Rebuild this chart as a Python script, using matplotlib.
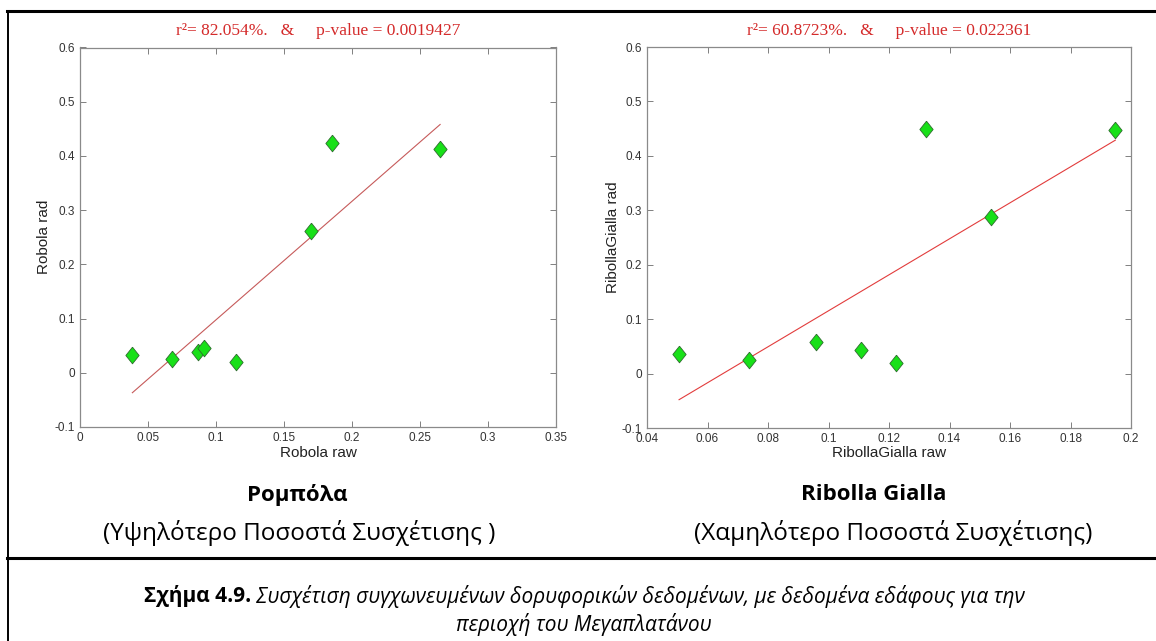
import numpy as np
import matplotlib
matplotlib.use("Agg")
import matplotlib.pyplot as plt
from matplotlib.lines import Line2D
from matplotlib.ticker import FuncFormatter

# values
robola_raw = [0.0385, 0.0673, 0.0865, 0.0912, 0.1145, 0.1696, 0.1853, 0.2648]
robola_rad = [0.033, 0.0246, 0.038, 0.0456, 0.0197, 0.261, 0.423, 0.4126]

ribolla_raw = [0.0506, 0.0738, 0.0959, 0.1106, 0.1223, 0.1323, 0.1537, 0.1948]
ribolla_rad = [0.0355, 0.0257, 0.0575, 0.0434, 0.0196, 0.450, 0.287, 0.447]

titles = ["r²= 82.054%.   &     p-value = 0.0019427",
          "r²= 60.8723%.   &     p-value = 0.022361"]
xlabels = ["Robola raw", "RibollaGialla raw"]
ylabels = ["Robola rad", "RibollaGialla rad"]
names = ["Ρομπόλα", "Ribolla Gialla"]
notes = ["(Υψηλότερο Ποσοστά Συσχέτισης )", "(Χαμηλότερο Ποσοστά Συσχέτισης)"]
caption_bold = "Σχήμα 4.9."
caption_1 = " Συσχέτιση συγχωνευμένων δορυφορικών δεδομένων, με δεδομένα εδάφους για την"
caption_2 = "περιοχή του Μεγαπλατάνου"

xticks_left = [0, 0.05, 0.1, 0.15, 0.2, 0.25, 0.3, 0.35]
xticks_right = [0.04, 0.06, 0.08, 0.1, 0.12, 0.14, 0.16, 0.18, 0.2]
yticks = [-0.1, 0, 0.1, 0.2, 0.3, 0.4, 0.5, 0.6]

W, H = 1156, 641
fig = plt.figure(figsize=(W / 100, H / 100), dpi=100)


def box(x0, y0, x1, y1):
    # pixel box (top-left origin) -> figure fraction
    return [x0 / W, 1 - y1 / H, (x1 - x0) / W, (y1 - y0) / H]


def fy(y):
    return 1 - y / H


diamond = [(0, 1), (0.8, 0), (0, -1), (-0.8, 0), (0, 1)]
fmt = FuncFormatter(lambda v, p: "0" if abs(v) < 1e-9 else f"{v:g}")

panels = [
    (box(80, 47.5, 556, 427), robola_raw, robola_rad, xticks_left, "#c65a5a", 44),
    (box(647, 47, 1131, 428), ribolla_raw, ribolla_rad, xticks_right, "#e23c3c", 613),
]

for i, (pos, xs, ys, xt, lcol, ylx) in enumerate(panels):
    ax = fig.add_axes(pos)
    xs = np.array(xs)
    ys = np.array(ys)
    k, b = np.polyfit(xs, ys, 1)
    xl = np.array([xs.min(), xs.max()])
    ax.plot(xl, k * xl + b, color=lcol, lw=0.8, zorder=2)
    ax.plot(xs, ys, linestyle="none", marker=diamond, markersize=12,
            markerfacecolor="#18e018", markeredgecolor="#2f6b2f",
            markeredgewidth=0.6, zorder=3)
    ax.set_xlim(xt[0], xt[-1])
    ax.set_ylim(-0.1, 0.6)
    ax.set_xticks(xt)
    ax.set_yticks(yticks)
    ax.xaxis.set_major_formatter(fmt)
    ax.yaxis.set_major_formatter(fmt)
    ax.tick_params(direction="in", length=4, width=0.7, color="#808080",
                   top=True, right=True, labelsize=8.5, labelcolor="#333333",
                   pad=3.5)
    for lab in ax.get_xticklabels() + ax.get_yticklabels():
        lab.set_family("Liberation Sans")
    for s in ax.spines.values():
        s.set_color("#8a8a8a")
        s.set_linewidth(0.9)
    cx = (pos[0] + pos[2] / 2)
    fig.text(cx, fy(31), titles[i], color="#d42a2a", fontsize=12.5,
             family="Liberation Serif", ha="center", va="center")
    fig.text(cx, fy(453), xlabels[i], fontsize=11, family="Liberation Sans",
             color="#222222", ha="center", va="center")
    fig.text(ylx / W, (pos[1] + pos[3] / 2), ylabels[i], fontsize=11,
             family="Liberation Sans", color="#222222", rotation=90,
             ha="center", va="center")

# cell texts under the plots
fig.text(297 / W, fy(495), names[0], fontsize=16, weight="bold",
         family="Open Sans", ha="center", va="center")
fig.text(874 / W, fy(495), names[1], fontsize=16, weight="bold",
         family="Open Sans", ha="center", va="center")
fig.text(103 / W, fy(533), notes[0], fontsize=17.5,
         family="Open Sans", ha="left", va="center")
fig.text(893 / W, fy(533), notes[1], fontsize=17.5,
         family="Open Sans", ha="center", va="center")

# caption: bold lead-in followed by italic text, centred as one line
renderer = fig.canvas.get_renderer()
tb = fig.text(0, fy(596), caption_bold, fontsize=15, weight="bold",
              family="Open Sans", va="center")
ti = fig.text(0, fy(596), caption_1, fontsize=15, style="italic",
              family="Open Sans", va="center")
wb = tb.get_window_extent(renderer).width
wi = ti.get_window_extent(renderer).width
x0 = 584 - (wb + wi) / 2
tb.set_x(x0 / W)
ti.set_x((x0 + wb) / W)
fig.text(584 / W, fy(625), caption_2, fontsize=15, style="italic",
         family="Open Sans", ha="center", va="center")

# table borders
for xa, ya, xb, yb, lw in [(7, 11, W, 11, 2.2), (7, 558, W, 558, 2.2),
                           (7.5, 11, 7.5, H, 1.4)]:
    fig.add_artist(Line2D([xa / W, xb / W], [fy(ya), fy(yb)],
                          color="black", lw=lw, transform=fig.transFigure))

fig.savefig("out.png", dpi=100)
